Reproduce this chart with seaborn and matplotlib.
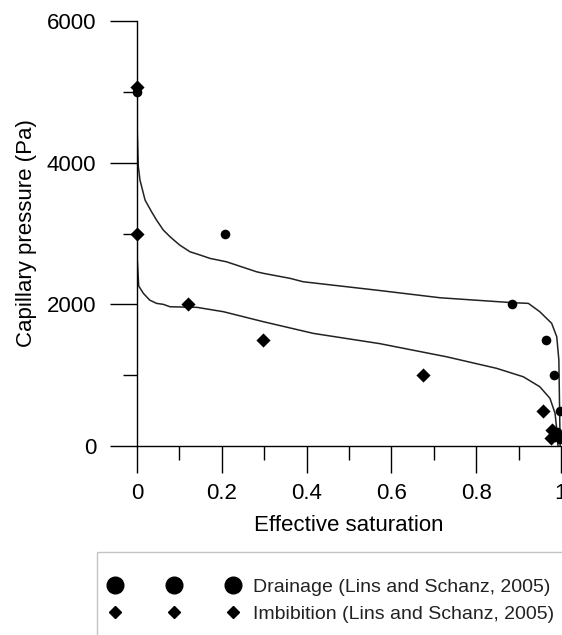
import matplotlib
matplotlib.use("Agg")
import matplotlib.pyplot as plt
from matplotlib.lines import Line2D
from matplotlib.patches import Rectangle
from matplotlib.ticker import MultipleLocator
import seaborn as sns
import pandas as pd

# measured points (Lins and Schanz, 2005)
drain_s = [0.0, 0.208, 0.885, 0.965, 0.984, 0.998, 0.99, 0.997]
drain_p = [5000, 3000, 2000, 1500, 1000, 500, 200, 100]
imb_s = [0.0, 0.0, 0.121, 0.296, 0.674, 0.958, 0.978, 0.976, 0.986]
imb_p = [5070, 3000, 2000, 1500, 1000, 500, 220, 110, 160]

# fitted curves
drain_curve_s = [0.0, 0.0, 0.003, 0.007, 0.019, 0.035, 0.046, 0.062, 0.078, 0.100,
                 0.125, 0.149, 0.172, 0.211, 0.282, 0.298, 0.361, 0.392, 0.573,
                 0.715, 0.8875, 0.923, 0.95, 0.978, 0.990, 0.995, 0.998]
drain_curve_p = [5000, 4100, 3950, 3754, 3472, 3300, 3190, 3049, 2954, 2840,
                 2742, 2696, 2649, 2601, 2460, 2438, 2367, 2319, 2195,
                 2093, 2023, 2014, 1896, 1732, 1543, 1214, 0]
imb_curve_s = [0.0, 0.0, 0.004, 0.015, 0.030, 0.046, 0.062, 0.078, 0.141, 0.204,
               0.298, 0.416, 0.573, 0.730, 0.848, 0.911, 0.95, 0.974, 0.986,
               0.991, 0.993]
imb_curve_p = [3000, 2390, 2260, 2155, 2060, 2014, 2000, 1966, 1958, 1896,
               1755, 1590, 1445, 1260, 1097, 978, 837, 673, 462,
               179, 0]

x_ticks = [0, 0.2, 0.4, 0.6, 0.8, 1.0]
x_labels = ["0", "0.2", "0.4", "0.6", "0.8", "1"]
y_ticks = [0, 2000, 4000, 6000]
legend_labels = ["Drainage (Lins and Schanz, 2005)",
                 "Imbibition (Lins and Schanz, 2005)"]

sns.set_style("ticks")
plt.rcParams["font.family"] = ["Liberation Sans", "DejaVu Sans"]

fig = plt.figure(figsize=(5.62, 6.35), dpi=100)
ax = fig.add_axes([0.2438, 0.2976, 0.7544, 0.6693])

dc = pd.DataFrame({"s": drain_curve_s, "p": drain_curve_p})
ic = pd.DataFrame({"s": imb_curve_s, "p": imb_curve_p})
sns.lineplot(data=dc, x="s", y="p", sort=False, color="#222222", lw=1.1, ax=ax)
sns.lineplot(data=ic, x="s", y="p", sort=False, color="#222222", lw=1.1, ax=ax)

sns.scatterplot(x=drain_s, y=drain_p, marker="o", s=48, color="black",
                edgecolor="black", linewidth=0, ax=ax, clip_on=False, zorder=5)
sns.scatterplot(x=imb_s, y=imb_p, marker="D", s=52, color="black",
                edgecolor="black", linewidth=0, ax=ax, clip_on=False, zorder=5)

ax.set_xlim(0, 1)
ax.set_ylim(0, 6000)
ax.set_xticks(x_ticks)
ax.set_xticklabels(x_labels)
ax.set_yticks(y_ticks)
ax.xaxis.set_minor_locator(MultipleLocator(0.1))
ax.yaxis.set_minor_locator(MultipleLocator(1000))
ax.tick_params(which="major", length=19.5, width=1, color="black",
               labelsize=16, labelcolor="black")
ax.tick_params(which="minor", length=10, width=1, color="black")
ax.tick_params(axis="y", which="major", pad=10)
ax.tick_params(axis="x", which="major", pad=7)

sns.despine(ax=ax)
for sp in ("left", "bottom"):
    ax.spines[sp].set_color("black")
    ax.spines[sp].set_linewidth(1)

ax.set_xlabel("Effective saturation", fontsize=16, labelpad=8, color="black")
ax.set_ylabel("Capillary pressure (Pa)", fontsize=16, labelpad=7, color="black")

handles = [
    Line2D([], [], ls="none", marker="o", ms=12, color="black"),
    Line2D([], [], ls="none", marker="D", ms=6.5, color="black"),
]
leg = fig.legend(handles, legend_labels,
                 loc="upper left", bbox_to_anchor=(96 / 562, 1 - 565 / 635),
                 numpoints=3, handlelength=6.67, handletextpad=0.73,
                 borderpad=0.68, labelspacing=0.5, fontsize=14,
                 frameon=False, borderaxespad=0)
for t in leg.get_texts():
    t.set_color("#222222")

# legend frame runs past the right and bottom edges of the picture
fig.patches.append(Rectangle((96.5 / 562, -0.1), 1.0, 0.1 + (635 - 551.5) / 635,
                             transform=fig.transFigure, fill=False,
                             edgecolor="#c4c4c4", linewidth=1))

fig.savefig("out.png", dpi=100)
